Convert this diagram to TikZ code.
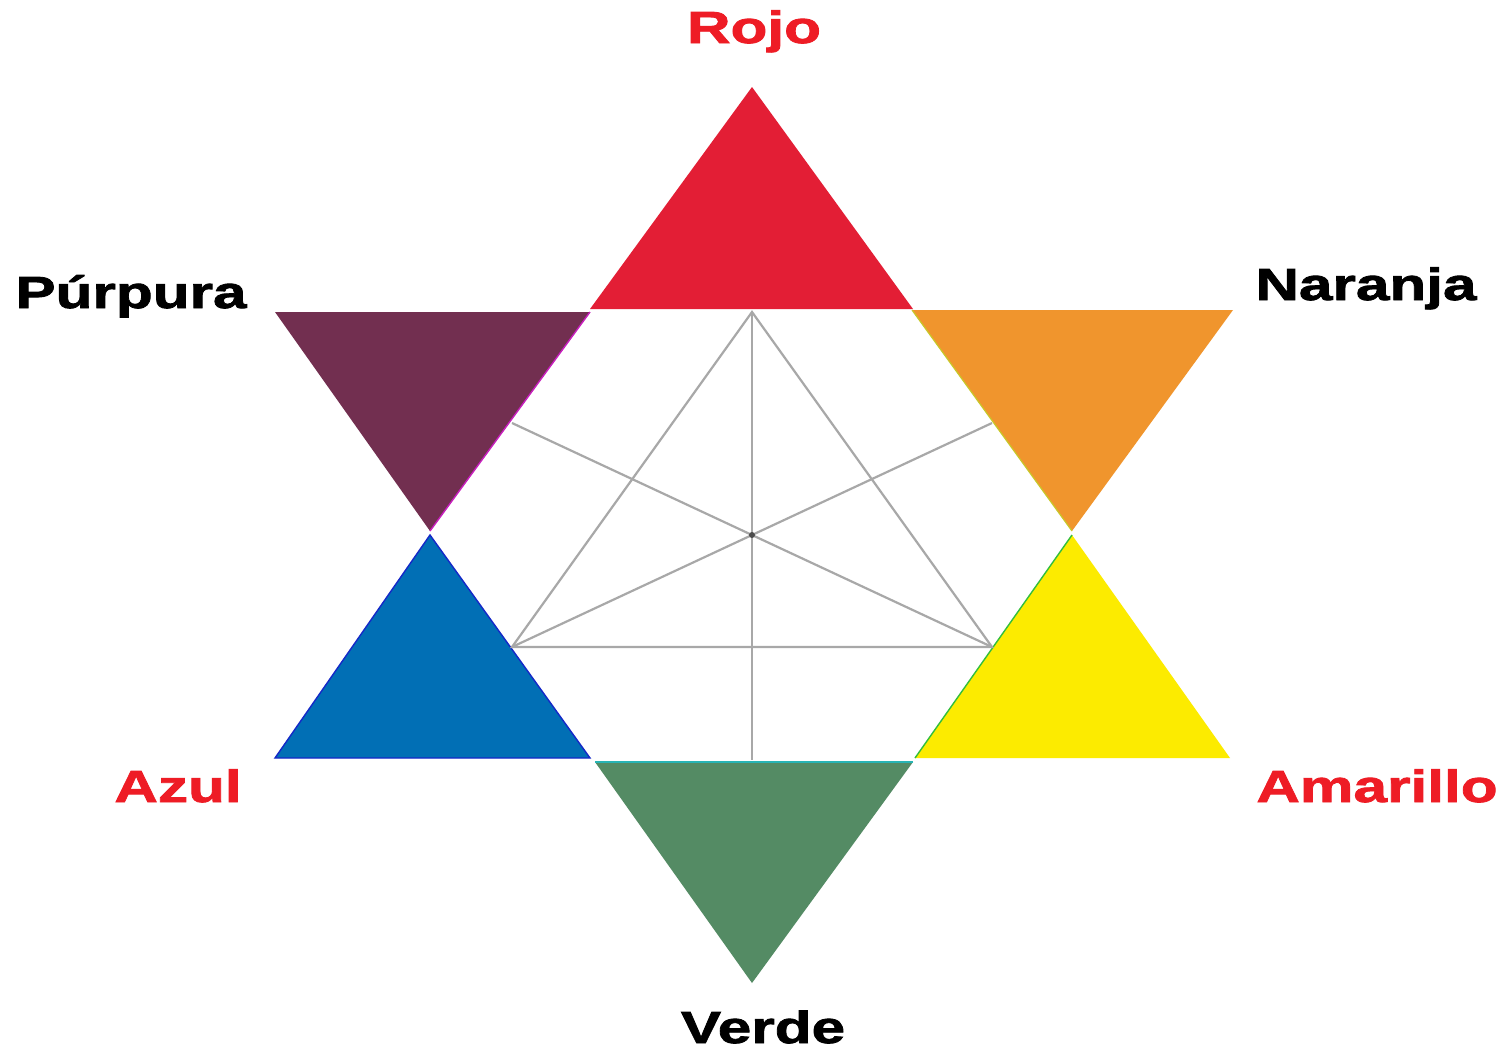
\documentclass[tikz,border=0pt]{standalone}
\usepackage{fontspec}
\newfontfamily\labfont[FakeStretch=1.34,FakeBold=1.8]{Liberation Sans Bold}
\definecolor{cred}{HTML}{E31E35}
\definecolor{cpurple}{HTML}{722F50}
\definecolor{corange}{HTML}{F0952D}
\definecolor{cblue}{HTML}{016FB5}
\definecolor{cyellow}{HTML}{FCEB00}
\definecolor{cgreen}{HTML}{548B64}
\definecolor{labred}{HTML}{EE1C25}
\definecolor{gline}{HTML}{A8A8A8}
\tikzset{
  lab/.style={font=\labfont\fontsize{45}{50}\selectfont, anchor=base, inner sep=0pt},
  grid/.style={draw=gline, line width=2.2pt},
}
\begin{document}
\begin{tikzpicture}[x=1pt,y=-1pt]
\useasboundingbox (0,0) rectangle (1507,1050);
\fill[white] (0,0) rectangle (1507,1050);
% triangles
\fill[cred] (752,87) -- (590,309) -- (913,309) -- cycle;
\fill[cpurple] (275,312) -- (590,312) -- (430,531) -- cycle;
\draw[draw={rgb,255:red,200;green,30;blue,190}, line width=1.4pt] (590,312) -- (430,531);
\fill[corange] (912,310) -- (1233,310) -- (1072,531) -- cycle;
\draw[draw={rgb,255:red,200;green,200;blue,40}, line width=1.2pt] (912,310) -- (1072,531);
\fill[cblue] (430,535) -- (275,758) -- (590,758) -- cycle;
\draw[draw={rgb,255:red,20;green,40;blue,200}, line width=1.4pt] (430,535) -- (275,758) -- (590,758) -- cycle;
\fill[cyellow] (1072,535) -- (915,758) -- (1230,758) -- cycle;
\draw[draw={rgb,255:red,50;green,190;blue,60}, line width=1.4pt] (1072,535) -- (915,758);
\fill[cgreen] (595,762) -- (913,762) -- (752,983) -- cycle;
\draw[draw={rgb,255:red,40;green,180;blue,180}, line width=1.6pt] (595,762) -- (913,762);
% inner grid
\coordinate (T) at (752,312);
\coordinate (UL) at (512,423);
\coordinate (UR) at (992,423);
\coordinate (BL) at (512,647);
\coordinate (BR) at (992,647);
\coordinate (B) at (752,760);
\coordinate (C) at (752,535);
\draw[grid] (T) -- (BL) -- (BR) -- cycle;
\draw[grid] (UL) -- (BR);
\draw[grid] (UR) -- (BL);
\draw[grid] (T) -- (B);
\fill[gray!60!black] (C) circle (3pt);
% labels
\node[lab, text=labred] (rojo) at (754,43) {Rojo};
\node[lab] (purpura) at (131,308) {Púrpura};
\node[lab] (naranja) at (1366,300) {Naranja};
\node[lab, text=labred] (azul) at (178,802) {Azul};
\node[lab, text=labred] (amarillo) at (1377,802) {Amarillo};
\node[lab] (verde) at (763,1043) {Verde};
\end{tikzpicture}
\end{document}
